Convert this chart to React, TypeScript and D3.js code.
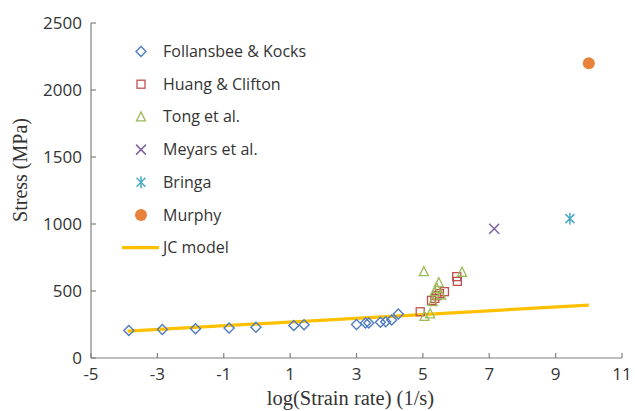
import React from "react";
import * as d3 from "d3";

// Stress vs. log(strain rate) data sets
const follansbeeX = [-3.86, -2.85, -1.85, -0.84, -0.03, 1.11, 1.42, 3.0, 3.27, 3.37, 3.72, 3.88, 4.06, 4.26];
const follansbeeY = [205, 212, 218, 224, 229, 243, 248, 250, 262, 262, 266, 271, 284, 328];

const huangX = [4.92, 5.26, 5.36, 5.42, 5.5, 5.65, 6.02, 6.04];
const huangY = [345, 430, 445, 465, 480, 495, 607, 572];

const tongX = [5.03, 5.05, 5.22, 5.3, 5.36, 5.42, 5.48, 5.55, 6.18];
const tongY = [644, 310, 330, 420, 495, 520, 562, 470, 640];

const meyarsX = [7.15];
const meyarsY = [965];

const bringaX = [9.43];
const bringaY = [1040];

const murphyX = [10];
const murphyY = [2200];

const jcX = [-3.9, 10];
const jcY = [200, 395];

const xTicks = [-5, -3, -1, 1, 3, 5, 7, 9, 11];
const yTicks = [0, 500, 1000, 1500, 2000, 2500];

const legendLabels = ["Follansbee & Kocks", "Huang & Clifton", "Tong et al.", "Meyars et al.", "Bringa", "Murphy", "JC model"];

const W = 635;
const H = 411;
const x = d3.scaleLinear().domain([-5, 11]).range([91, 622]);
const y = d3.scaleLinear().domain([0, 2500]).range([358, 23]);

const C = {
  blue: "#4F7BC0",
  red: "#C0504D",
  green: "#9BBB59",
  purple: "#8064A2",
  teal: "#4BACC6",
  orange: "#E8823A",
  jc: "#FFC000",
  axis: "#808080",
  text: "#333333",
};

const sans = "'Open Sans', sans-serif";
const serif = "'Liberation Serif', 'Times New Roman', serif";

type MarkerKind = "diamond" | "square" | "triangle" | "cross" | "star" | "circle";

function Marker({ kind, cx, cy }: { kind: MarkerKind; cx: number; cy: number }) {
  switch (kind) {
    case "diamond":
      return <path d={`M${cx},${cy - 5}L${cx + 5},${cy}L${cx},${cy + 5}L${cx - 5},${cy}Z`} fill="none" stroke={C.blue} strokeWidth={1.4} />;
    case "square":
      return <rect x={cx - 4} y={cy - 4} width={8} height={8} fill="none" stroke={C.red} strokeWidth={1.3} />;
    case "triangle":
      return <path d={`M${cx},${cy - 5}L${cx + 4.5},${cy + 4}L${cx - 4.5},${cy + 4}Z`} fill="none" stroke={C.green} strokeWidth={1.3} />;
    case "cross":
      return <path d={`M${cx - 5},${cy - 5}L${cx + 5},${cy + 5}M${cx - 5},${cy + 5}L${cx + 5},${cy - 5}`} stroke={C.purple} strokeWidth={1.5} />;
    case "star":
      return (
        <path
          d={`M${cx - 4.5},${cy - 4.5}L${cx + 4.5},${cy + 4.5}M${cx - 4.5},${cy + 4.5}L${cx + 4.5},${cy - 4.5}M${cx},${cy - 6}L${cx},${cy + 6}`}
          stroke={C.teal}
          strokeWidth={1.5}
        />
      );
    case "circle":
      return <circle cx={cx} cy={cy} r={6} fill={C.orange} />;
  }
}

const series: { xs: number[]; ys: number[]; kind: MarkerKind }[] = [
  { xs: follansbeeX, ys: follansbeeY, kind: "diamond" },
  { xs: huangX, ys: huangY, kind: "square" },
  { xs: tongX, ys: tongY, kind: "triangle" },
  { xs: meyarsX, ys: meyarsY, kind: "cross" },
  { xs: bringaX, ys: bringaY, kind: "star" },
  { xs: murphyX, ys: murphyY, kind: "circle" },
];

export default function App() {
  const jcLine = d3
    .line<number>()
    .x((_, i) => x(jcX[i]))
    .y((d) => y(d))(jcY);

  const x0 = x.range()[0];
  const x1 = x.range()[1];
  const y0 = y.range()[0];
  const y1 = y.range()[1];

  const legendX = 141;
  const legendTextX = 163;
  const legendY0 = 51.5;
  const legendDy = 32.7;

  return (
    <svg width={W} height={H} style={{ position: "fixed", left: 0, top: 0, background: "#fff" }}>
      {/* axes */}
      <g stroke={C.axis} strokeWidth={1.2} fill="none">
        <line x1={x0} y1={y0} x2={x1} y2={y0} />
        <line x1={x0} y1={y0} x2={x0} y2={y1} />
        {xTicks.map((t) => (
          <line key={`xt${t}`} x1={x(t)} x2={x(t)} y1={y0} y2={y0 - 5} />
        ))}
        {yTicks.map((t) => (
          <line key={`yt${t}`} x1={x0} x2={x0 + 5} y1={y(t)} y2={y(t)} />
        ))}
      </g>
      <g fontFamily={sans} fontSize={17} fill={C.text}>
        {xTicks.map((t) => (
          <text key={`xl${t}`} x={x(t)} y={y0 + 22} textAnchor="middle">
            {t}
          </text>
        ))}
        {yTicks.map((t) => (
          <text key={`yl${t}`} x={x0 - 9} y={y(t) + 6} textAnchor="end">
            {t}
          </text>
        ))}
      </g>
      <text x={(x0 + x1) / 2 - 6} y={405} textAnchor="middle" fontFamily={serif} fontSize={20.5} fill={C.text}>
        log(Strain rate) (1/s)
      </text>
      <text
        transform={`translate(27,170) rotate(-90)`}
        textAnchor="middle"
        fontFamily={serif}
        fontSize={20}
        fill={C.text}
      >
        Stress (MPa)
      </text>

      {/* JC model */}
      <path d={jcLine ?? ""} fill="none" stroke={C.jc} strokeWidth={3.2} />

      {/* data */}
      {series.map((s, si) => (
        <g key={si}>
          {s.xs.map((v, i) => (
            <Marker key={i} kind={s.kind} cx={x(v)} cy={y(s.ys[i])} />
          ))}
        </g>
      ))}

      {/* legend */}
      <g fontFamily={sans} fontSize={16} fill={C.text}>
        {legendLabels.map((label, i) => {
          const ly = legendY0 + i * legendDy;
          return (
            <g key={label}>
              {i < series.length ? (
                <Marker kind={series[i].kind} cx={legendX} cy={ly} />
              ) : (
                <line x1={122} x2={159} y1={ly} y2={ly} stroke={C.jc} strokeWidth={3.2} />
              )}
              <text x={legendTextX} y={ly + 5.5}>
                {label}
              </text>
            </g>
          );
        })}
      </g>
    </svg>
  );
}
